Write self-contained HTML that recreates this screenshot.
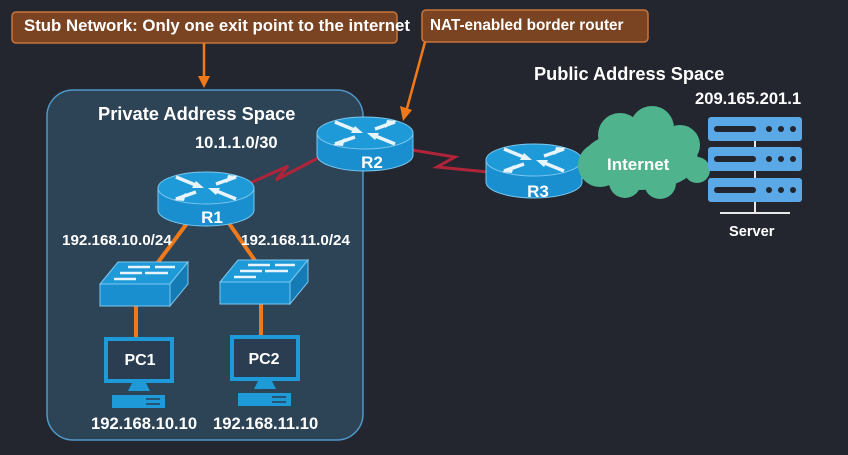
<!DOCTYPE html>
<html><head><style>
html,body{margin:0;padding:0;background:#23262e;}
svg{display:block}
text{font-family:"Liberation Sans",Arial,sans-serif;font-weight:bold;fill:#fff}
</style></head><body>
<svg width="848" height="455" viewBox="0 0 848 455" xmlns="http://www.w3.org/2000/svg">
<defs>
<g id="router">
  <path d="M-48,0 L-48,22 A48,16 0 0 0 48,22 L48,0 Z" fill="#1a8fcf" stroke="#7cc7ee" stroke-width="1"/>
  <ellipse cx="0" cy="0" rx="48" ry="16" fill="#1e9ad8" stroke="#7cc7ee" stroke-width="1"/>
  <g stroke="#e8f4fb" stroke-width="3.5">
    <line x1="-30" y1="-11" x2="-8" y2="-2"/><line x1="30" y1="11" x2="8" y2="2"/>
    <line x1="-10" y1="4" x2="-30" y2="11"/><line x1="10" y1="-4" x2="30" y2="-11"/>
  </g>
  <polygon points="-2,0 -14,0 -10,-7" fill="#e8f4fb"/>
  <polygon points="2,0 14,0 10,7" fill="#e8f4fb"/>
  <polygon points="-32,12 -20,5 -22,13" fill="#e8f4fb"/>
  <polygon points="32,-12 20,-5 22,-13" fill="#e8f4fb"/>
</g>
<g id="switch">
  <polygon points="0,22 18,0 88,0 70,22" fill="#1e9ad8" stroke="#7cc7ee"/>
  <rect x="0" y="22" width="70" height="22" fill="#1a8fcf" stroke="#7cc7ee"/>
  <polygon points="70,22 88,0 88,22 70,44" fill="#157bb5" stroke="#7cc7ee"/>
  <g stroke="#e8f4fb" stroke-width="2.5">
    <line x1="28" y1="5" x2="50" y2="5"/><line x1="55" y1="5" x2="75" y2="5"/>
    <line x1="20" y1="11" x2="42" y2="11"/><line x1="45" y1="11" x2="68" y2="11"/>
    <line x1="14" y1="17" x2="36" y2="17"/>
  </g>
</g>
<g id="pc">
  <rect x="0" y="0" width="70" height="46" fill="#1e9ad8"/>
  <rect x="4" y="4" width="62" height="38" fill="#2a3d51"/>
  <polygon points="28,46 42,46 46,54 24,54" fill="#1e9ad8"/>
  <rect x="8" y="58" width="53" height="13" fill="#1e9ad8"/>
  <line x1="42" y1="62" x2="56" y2="62" stroke="#2a3d51" stroke-width="1.5"/>
  <line x1="42" y1="67" x2="56" y2="67" stroke="#2a3d51" stroke-width="1.5"/>
</g>
</defs>

<rect x="47" y="90" width="316" height="350" rx="26" fill="#2d4356" stroke="#4f97c7" stroke-width="1.5"/>

<rect x="12" y="12" width="385" height="31" rx="4" fill="#7a4322" stroke="#c8743a" stroke-width="1.5"/>
<text x="24" y="31" font-size="16.8">Stub Network: Only one exit point to the internet</text>
<rect x="422" y="10" width="226" height="32" rx="4" fill="#7a4322" stroke="#c8743a" stroke-width="1.5"/>
<text x="430" y="30" font-size="15.3">NAT-enabled border router</text>
<line x1="204" y1="43" x2="204" y2="80" stroke="#f07a1a" stroke-width="2.5"/>
<polygon points="198,76 210,76 204,88" fill="#f07a1a"/>
<line x1="425" y1="42" x2="406" y2="112" stroke="#f07a1a" stroke-width="2.5"/>
<polygon points="400,106 412,110 403,121" fill="#f07a1a"/>

<polyline points="248,184 288,166 276,180 318,158" fill="none" stroke="#b0243a" stroke-width="3"/>
<polyline points="412,150 455,157 437,167 488,172" fill="none" stroke="#b0243a" stroke-width="3"/>

<line x1="188" y1="222" x2="156" y2="265" stroke="#f07a1a" stroke-width="4"/>
<line x1="228" y1="222" x2="256" y2="262" stroke="#f07a1a" stroke-width="4"/>
<line x1="136" y1="306" x2="136" y2="338" stroke="#f07a1a" stroke-width="4"/>
<line x1="261" y1="304" x2="261" y2="336" stroke="#f07a1a" stroke-width="4"/>

<use href="#router" x="206" y="188"/>
<use href="#router" x="365" y="133"/>
<use href="#router" x="534" y="160"/>
<text x="212" y="223" font-size="17" text-anchor="middle">R1</text>
<text x="372" y="168" font-size="17" text-anchor="middle">R2</text>
<text x="538" y="197" font-size="17" text-anchor="middle">R3</text>

<use href="#switch" x="100" y="262"/>
<use href="#switch" x="220" y="260"/>
<use href="#pc" x="104" y="337"/>
<use href="#pc" x="230" y="335"/>
<text x="140" y="365" font-size="16" text-anchor="middle">PC1</text>
<text x="264" y="364" font-size="16" text-anchor="middle">PC2</text>

<text x="98" y="120" font-size="18.3">Private Address Space</text>
<text x="195" y="148" font-size="16.5">10.1.1.0/30</text>
<text x="62" y="245" font-size="15.2">192.168.10.0/24</text>
<text x="241" y="245" font-size="15.2">192.168.11.0/24</text>
<text x="91" y="429" font-size="16.6">192.168.10.10</text>
<text x="213" y="429" font-size="16.6">192.168.11.10</text>

<g fill="#4fb38e">
  <ellipse cx="640" cy="160" rx="58" ry="30"/>
  <circle cx="620" cy="135" r="22"/>
  <circle cx="652" cy="128" r="22"/>
  <circle cx="680" cy="145" r="20"/>
  <circle cx="697" cy="170" r="13"/>
  <circle cx="600" cy="165" r="22"/>
  <circle cx="625" cy="182" r="16"/>
  <circle cx="660" cy="183" r="16"/>
</g>
<text x="607" y="170" font-size="17">Internet</text>

<text x="534" y="80" font-size="18.2">Public Address Space</text>
<text x="695" y="104" font-size="16.6">209.165.201.1</text>

<g>
  <line x1="755" y1="140" x2="755" y2="213" stroke="#e8e8e8" stroke-width="2"/>
  <line x1="720" y1="213" x2="790" y2="213" stroke="#e8e8e8" stroke-width="2"/>
  <rect x="708" y="117" width="94" height="24" rx="3" fill="#5aa9e6"/>
  <rect x="708" y="147" width="94" height="24" rx="3" fill="#5aa9e6"/>
  <rect x="708" y="178" width="94" height="24" rx="3" fill="#5aa9e6"/>
  <g fill="#23262e">
    <rect x="714" y="126" width="42" height="6" rx="3"/><circle cx="769" cy="129" r="3"/><circle cx="781" cy="129" r="3"/><circle cx="793" cy="129" r="3"/>
    <rect x="714" y="156" width="42" height="6" rx="3"/><circle cx="769" cy="159" r="3"/><circle cx="781" cy="159" r="3"/><circle cx="793" cy="159" r="3"/>
    <rect x="714" y="187" width="42" height="6" rx="3"/><circle cx="769" cy="190" r="3"/><circle cx="781" cy="190" r="3"/><circle cx="793" cy="190" r="3"/>
  </g>
</g>
<text x="729" y="236" font-size="14.6">Server</text>
</svg>
</body></html>
